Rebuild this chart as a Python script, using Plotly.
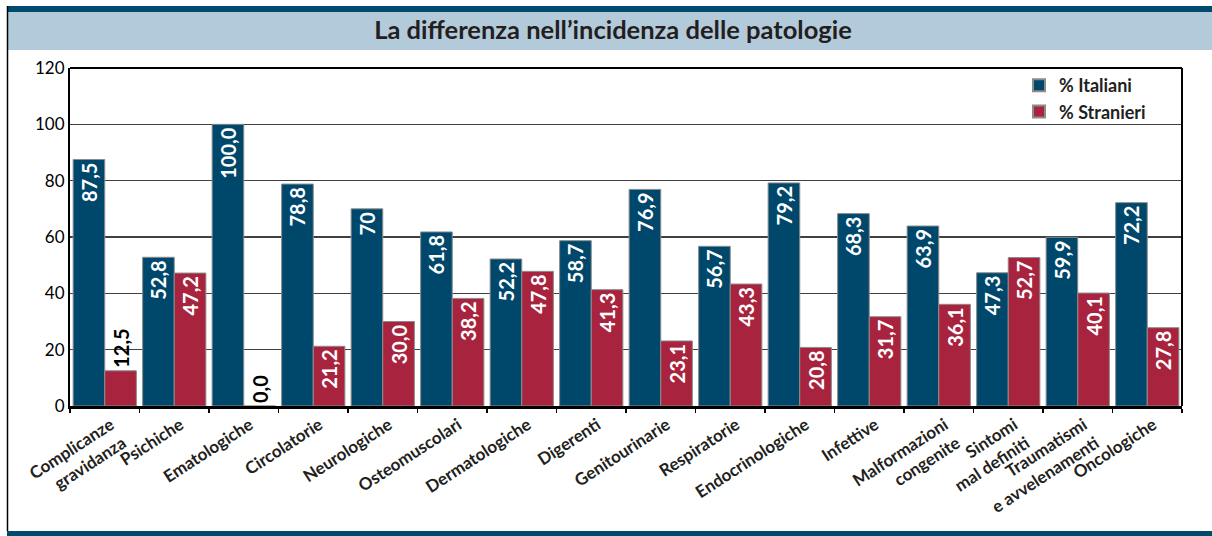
import plotly.graph_objects as go

categories = ["Complicanze<br>gravidanza", "Psichiche", "Ematologiche", "Circolatorie",
              "Neurologiche", "Osteomuscolari", "Dermatologiche", "Digerenti",
              "Genitourinarie", "Respiratorie", "Endocrinologiche", "Infettive",
              "Malformazioni<br>congenite", "Sintomi<br>mal definiti",
              "Traumatismi<br>e avvelenamenti", "Oncologiche"]
italiani = [87.5, 52.8, 100.0, 78.8, 70.0, 61.8, 52.2, 58.7, 76.9, 56.7, 79.2, 68.3, 63.9, 47.3, 59.9, 72.2]
stranieri = [12.5, 47.2, 0.0, 21.2, 30.0, 38.2, 47.8, 41.3, 23.1, 43.3, 20.8, 31.7, 36.1, 52.7, 40.1, 27.8]
italiani_labels = ["87,5", "52,8", "100,0", "78,8", "70", "61,8", "52,2", "58,7", "76,9", "56,7",
                   "79,2", "68,3", "63,9", "47,3", "59,9", "72,2"]
stranieri_labels = ["12,5", "47,2", "0,0", "21,2", "30,0", "38,2", "47,8", "41,3", "23,1", "43,3",
                    "20,8", "31,7", "36,1", "52,7", "40,1", "27,8"]
y_ticks = [0, 20, 40, 60, 80, 100, 120]

BLUE = "#00476c"
RED = "#a8233e"
DARK = "#231f20"
FONT = "Lato"

def positions(vals):
    return ["outside" if v < 15 else "inside" for v in vals]

fig = go.Figure()
for name, vals, labels, color in [("% Italiani", italiani, italiani_labels, BLUE),
                                  ("% Stranieri", stranieri, stranieri_labels, RED)]:
    fig.add_trace(go.Bar(
        name=name, x=categories, y=vals, text=labels,
        marker=dict(color=color, line=dict(color="#8c8c8c", width=1)),
        textposition=positions(vals), textangle=-90, insidetextanchor="end",
        constraintext="none",
        insidetextfont=dict(family=FONT, size=20, color="white", weight="bold"),
        outsidetextfont=dict(family=FONT, size=20, color="black", weight="bold"),
        cliponaxis=False, hoverinfo="skip"))

L, R, T, B = 70, 30, 68, 130
W, H = 1212, 536
pw, ph = W - L - R, H - T - B
def px(x):
    return (x - L) / pw
def py(y):
    return (H - B - y) / ph

shapes = [
    dict(type="rect", xref="paper", yref="paper", x0=px(7), x1=px(1212), y0=py(12), y1=py(50),
         fillcolor="#b3cadb", line=dict(width=0), layer="below"),
    dict(type="rect", xref="paper", yref="paper", x0=px(7), x1=px(1212), y0=py(6), y1=py(12),
         fillcolor="#004a6e", line=dict(width=0), layer="below"),
    dict(type="rect", xref="paper", yref="paper", x0=px(7), x1=px(1212), y0=py(531), y1=py(536),
         fillcolor="#004a6e", line=dict(width=0), layer="below"),
    dict(type="line", xref="paper", yref="paper", x0=px(7.5), x1=px(7.5), y0=py(6), y1=py(531),
         line=dict(color="black", width=1.5), layer="below"),
    dict(type="line", xref="paper", yref="paper", x0=0, x1=1, y0=1, y1=1,
         line=dict(color="black", width=2)),
    dict(type="line", xref="paper", yref="paper", x0=1, x1=1, y0=0, y1=1,
         line=dict(color="black", width=2)),
]

fig.update_layout(
    width=W, height=H,
    margin=dict(l=L, r=R, t=T, b=B, autoexpand=False),
    paper_bgcolor="white", plot_bgcolor="white",
    barmode="group", bargap=0.09, bargroupgap=0,
    font=dict(family=FONT, color=DARK),
    title=dict(text="La differenza nell’incidenza delle patologie",
               font=dict(family=FONT, size=25.5, color=DARK, weight="bold"),
               x=px(613), xref="paper", xanchor="center",
               y=1 - 30 / H, yref="container", yanchor="middle"),
    shapes=shapes,
    showlegend=True,
    legend=dict(x=px(1019), y=py(67), xanchor="left", yanchor="top",
                bgcolor="rgba(255,255,255,0)", borderwidth=0,
                font=dict(family=FONT, size=18, color=DARK, weight="bold"),
                tracegroupgap=0, itemsizing="constant"),
    xaxis=dict(type="category", showline=True, linecolor="black", linewidth=2.5,
               mirror=False, ticks="outside", tickson="boundaries", ticklen=4,
               tickcolor="black", tickwidth=1.5, tickangle=-33, ticklabelshift=6,
               tickfont=dict(family=FONT, size=17, color=DARK, weight="bold"),
               showgrid=False, fixedrange=True, automargin=False),
    yaxis=dict(range=[0, 120], tickvals=y_ticks, showline=True, linecolor="black",
               linewidth=2, mirror=False, ticks="", showgrid=True, gridcolor="#404040",
               gridwidth=1.4, tickfont=dict(family=FONT, size=17, color="black"),
               zeroline=False, fixedrange=True, automargin=False),
)

fig.write_html("out.html", config={"displayModeBar": False, "staticPlot": True},
               post_script="document.body.style.margin='0';document.body.style.overflow='hidden';")
